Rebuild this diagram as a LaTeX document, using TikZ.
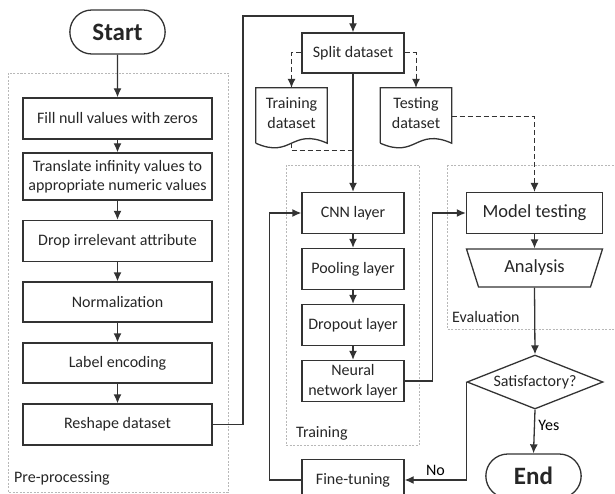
\documentclass[tikz,border=0pt]{standalone}
\usepackage{fontspec}
\setmainfont{Carlito}
\usetikzlibrary{arrows.meta}
\usetikzlibrary{shapes.misc}
\usetikzlibrary{shapes.geometric}
\usetikzlibrary{positioning}
\definecolor{fc-line}{HTML}{333333}
\definecolor{fc-text}{HTML}{262626}
\definecolor{fc-group}{HTML}{B8B8B8}

\begin{document}
\begin{tikzpicture}[x=1pt, y=-1pt, >={Latex[length=9pt,width=8pt]},
    font=\fontsize{16}{19.5}\selectfont,
    procbox/.style={rectangle, draw=fc-line, line width=1.3pt, text=fc-text, align=center, inner sep=2pt},
    termbox/.style={rounded rectangle, draw=fc-line, line width=1.3pt, text=fc-text, minimum width=102pt, minimum height=44pt, font=\fontsize{25}{30}\selectfont\bfseries},
    docnode/.style={rectangle, text=fc-text, align=center, minimum width=71pt, minimum height=50pt, inner sep=1pt},
    flow/.style={draw=fc-line, line width=1.3pt},
    dataflow/.style={draw=fc-line, line width=1pt, dash pattern=on 5pt off 3pt},
    groupbox/.style={draw=fc-group, line width=0.8pt, dash pattern=on 2pt off 1.5pt},
    grouplabel/.style={anchor=west, inner sep=0pt, text=fc-text}]
    \useasboundingbox (0,0) rectangle (615,494);
    \clip (0,0) rectangle (615,494);

    % Group frames
    \draw[groupbox] (8,73) rectangle (228,492);
    \draw[groupbox] (286,165) rectangle (419,445);
    \draw[groupbox] (447,165) rectangle (620,329);
    \node[grouplabel] (prelbl) at (14,478) {Pre-processing};
    \node[grouplabel] (trainlbl) at (296,433) {Training};
    \node[grouplabel] (evallbl) at (452,317) {Evaluation};

    % Pre-processing
    \node[termbox] (start) at (117.5,32) {Start};
    \foreach \i/\y/\h/\txt in {1/118.5/41/{Fill null values with zeros},
        2/176.5/47/{Translate infinity values to\\appropriate numeric values},
        3/241/41/{Drop irrelevant attribute}, 4/302/40/{Normalization},
        5/363/40/{Label encoding}, 6/424.5/41/{Reshape dataset}} {
        \node[procbox, minimum width=189pt, minimum height=\h pt] (p\i) at (117.5,\y) {\txt};
    }
    \draw[flow,->] (start) -- (p1);
    \foreach \i [count=\j from 2] in {1,...,5} {
        \draw[flow,->] (p\i) -- (p\j);
    }

    % Splitting
    \node[procbox, minimum width=102pt, minimum height=40pt] (split) at (353,53) {Split dataset};
    \node[docnode] (trainset) at (291.5,113) {Training\\dataset};
    \node[docnode] (testset) at (416,113) {Testing\\dataset};
    \foreach \d in {trainset,testset} {
        \draw[flow] ([yshift=-5pt]\d.south west) -- (\d.north west) -- (\d.north east) -- ([yshift=-5pt]\d.south east)
            .. controls +(-36,-16) and +(36,16) .. ([yshift=-5pt]\d.south west);
    }
    \coordinate (topbend) at (243,16);
    \draw[flow,->] (p6.east) -| (topbend) -| (split.north);
    \draw[dataflow,->] (split.west) -| (trainset.north);
    \draw[dataflow,->] (split.east) -| (testset.north);
    \coordinate (trainjoin) at (353,151);
    \draw[dataflow] ([yshift=-5pt]trainset.south) |- (trainjoin);

    % Training
    \foreach \n/\y/\txt in {cnn/213/{CNN layer}, pool/269/{Pooling layer},
        drop/325/{Dropout layer}, nn/381/{Neural\\network layer}, fine/480/{Fine-tuning}} {
        \node[procbox, minimum width=102pt, minimum height=41pt] (\n) at (353,\y) {\txt};
    }
    \draw[flow,->] (split.south) -- (cnn.north);
    \draw[flow,->] (cnn) -- (pool);
    \draw[flow,->] (pool) -- (drop);
    \draw[flow,->] (drop) -- (nn);
    \draw[flow,->] (fine.west) -- ++(-32,0) |- (cnn.west);

    % Evaluation
    \node[procbox, minimum width=136pt, minimum height=41pt, font=\fontsize{18.5}{22}\selectfont] (model) at (534.5,213) {Model testing};
    \node[trapezium, trapezium stretches body, shape border rotate=180, trapezium left angle=56, trapezium right angle=56,
        draw=fc-line, line width=1.3pt, text=fc-text, minimum width=136pt, minimum height=38pt, inner sep=1pt,
        font=\fontsize{18.5}{22}\selectfont] (analysis) at (534.5,268) {Analysis};
    \node[diamond, aspect=2.5, draw=fc-line, line width=1.3pt, text=fc-text, minimum width=136pt, minimum height=54pt, inner sep=1pt] (sat) at (535,382) {Satisfactory?};
    \node[termbox] (end) at (533.5,476) {End};
    \draw[dataflow,->] ([yshift=-4pt]testset.east) -| (model.north);
    \draw[flow,->] (nn.east) -- ++(28,0) |- (model.west);
    \draw[flow,->] (model) -- (analysis);
    \draw[flow,->] (analysis.south) -- (sat.north);
    \draw[flow,->] (sat.south) -- node[right, pos=0.35] {Yes} (end.north);
    \draw[flow,->] (sat.west) |- node[above, pos=0.75] {No} (fine.east);
\end{tikzpicture}
\end{document}
